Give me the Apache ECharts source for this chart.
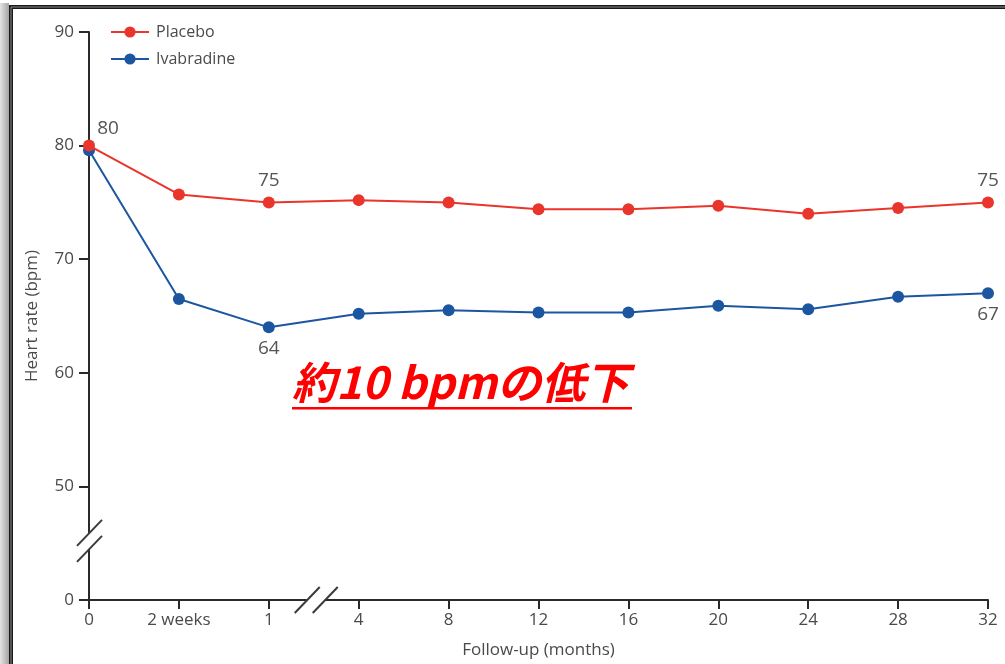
<!DOCTYPE html>
<html>
<head>
<meta charset="utf-8">
<script src="https://cdn.jsdelivr.net/npm/echarts@6/dist/echarts.min.js"></script>
<style>
  html, body { margin: 0; padding: 0; background: #fff; }
  #chart { width: 1005px; height: 664px; }
</style>
</head>
<body>
<div id="chart"></div>
<script>
// Follow-up time points
const categories = ['0', '2 weeks', '1', '4', '8', '12', '16', '20', '24', '28', '32'];
// Mean heart rate (bpm) per time point
const placebo = [80, 75.7, 75, 75.2, 75.0, 74.4, 74.4, 74.7, 74.0, 74.5, 75];
const ivabradine = [79.6, 66.5, 64, 65.2, 65.5, 65.3, 65.3, 65.9, 65.6, 66.7, 67];
// Y ticks: the lowest tick sits below the axis break and stands for 0
const yTickValues = [40, 50, 60, 70, 80, 90];
const yTickLabels = ['0', '50', '60', '70', '80', '90'];
// Points that carry a value label
const placeboLabelled = [0, 2, 10];
const ivabradineLabelled = [2, 10];
const annotation = '約10 bpmの低下';

const RED = '#e9352c';
const BLUE = '#1d56a0';
const TEXT = '#4a4a4a';
const FONT = '"Open Sans", "Liberation Sans", sans-serif';

function buildData(values, labelled, pos) {
  return values.map((v, i) => {
    if (labelled.indexOf(i) < 0) return v;
    const item = { value: v, label: { show: true, position: pos } };
    if (i === 0) { item.label.offset = [19, 4]; }
    return item;
  });
}

const chart = echarts.init(document.getElementById('chart'), null, { renderer: 'canvas' });

const labelStyle = {
  color: '#555',
  fontFamily: FONT,
  fontSize: 19,
  distance: 6,
  formatter: p => String(p.value)
};

chart.setOption({
  animation: false,
  backgroundColor: '#fff',
  grid: { left: 89, right: 17, top: 32, bottom: 63 },
  legend: {
    orient: 'vertical',
    left: 110,
    top: 24,
    padding: 0,
    itemWidth: 38,
    itemHeight: 14,
    itemGap: 11,
    data: ['Placebo', 'Ivabradine'],
    textStyle: { color: TEXT, fontFamily: FONT, fontSize: 16, padding: [0, 0, 0, 2] }
  },
  xAxis: {
    type: 'category',
    data: categories,
    boundaryGap: false,
    name: 'Follow-up (months)',
    nameLocation: 'middle',
    nameGap: 42,
    nameTextStyle: { color: TEXT, fontFamily: FONT, fontSize: 17 },
    axisLine: { lineStyle: { color: '#2a2a2a', width: 2 } },
    axisTick: { length: 9, lineStyle: { color: '#2a2a2a', width: 2 } },
    axisLabel: { color: TEXT, fontFamily: FONT, fontSize: 17, margin: 12 },
    splitLine: { show: false }
  },
  yAxis: {
    type: 'value',
    min: yTickValues[0],
    max: yTickValues[yTickValues.length - 1],
    interval: 10,
    name: 'Heart rate (bpm)',
    nameLocation: 'middle',
    nameGap: 48,
    nameTextStyle: { color: TEXT, fontFamily: FONT, fontSize: 17 },
    axisLine: { show: true, lineStyle: { color: '#2a2a2a', width: 2 } },
    axisTick: { show: true, length: 10, lineStyle: { color: '#2a2a2a', width: 2 } },
    axisLabel: {
      color: TEXT, fontFamily: FONT, fontSize: 17, margin: 15,
      formatter: v => yTickLabels[yTickValues.indexOf(v)]
    },
    splitLine: { show: false }
  },
  series: [
    {
      name: 'Placebo',
      type: 'line',
      z: 3,
      data: buildData(placebo, placeboLabelled, 'top'),
      symbol: 'circle',
      symbolSize: 12,
      itemStyle: { color: RED },
      lineStyle: { color: RED, width: 2 },
      label: Object.assign({ show: false }, labelStyle)
    },
    {
      name: 'Ivabradine',
      type: 'line',
      z: 2,
      data: buildData(ivabradine, ivabradineLabelled, 'bottom'),
      symbol: 'circle',
      symbolSize: 12,
      itemStyle: { color: BLUE },
      lineStyle: { color: BLUE, width: 2 },
      label: Object.assign({ show: false }, labelStyle)
    }
  ]
});

// Axis break marks and decorations, placed from the axis scales
const axisX = chart.convertToPixel({ xAxisIndex: 0 }, 0);
const axisY = chart.convertToPixel({ yAxisIndex: 0 }, yTickValues[0]);
const yBreak = chart.convertToPixel({ yAxisIndex: 0 }, 45.2);
const xBreak = (chart.convertToPixel({ xAxisIndex: 0 }, 2) + chart.convertToPixel({ xAxisIndex: 0 }, 3)) / 2 + 2;
const breakStyle = { stroke: '#3a3a3a', lineWidth: 2 };

function slash(cx, cy) {
  return { type: 'line', z: 101, shape: { x1: cx - 12, y1: cy + 13, x2: cx + 13, y2: cy - 13 }, style: breakStyle };
}

chart.setOption({
  graphic: [
    // y-axis break
    { type: 'rect', z: 100, shape: { x: axisX - 4, y: yBreak - 8, width: 8, height: 16 }, style: { fill: '#fff' } },
    slash(axisX, yBreak - 8),
    slash(axisX, yBreak + 8),
    // x-axis break
    { type: 'rect', z: 100, shape: { x: xBreak - 9, y: axisY - 4, width: 18, height: 8 }, style: { fill: '#fff' } },
    slash(xBreak - 9, axisY),
    slash(xBreak + 9, axisY),
    // annotation
    {
      type: 'text', z: 110, left: 292, top: 360,
      style: {
        text: annotation,
        fill: '#ff0000',
        font: 'italic bold 44px "Noto Sans CJK JP", sans-serif'
      }
    },
    { type: 'rect', z: 110, shape: { x: 292, y: 407, width: 340, height: 2.5 }, style: { fill: '#ff0000' } },
    // page frame
    {
      type: 'rect', z: 120, shape: { x: 0, y: 3, width: 9, height: 661 },
      style: { fill: new echarts.graphic.LinearGradient(0, 0, 1, 0, [
        { offset: 0, color: '#e4e4e4' }, { offset: 1, color: '#a4a4a4' }
      ]) }
    },
    { type: 'rect', z: 121, shape: { x: 9, y: 5, width: 996, height: 4 }, style: { fill: '#1a1a1a' } },
    { type: 'rect', z: 121, shape: { x: 9, y: 5, width: 4, height: 659 }, style: { fill: '#1a1a1a' } },
    { type: 'rect', z: 122, shape: { x: 11, y: 6.5, width: 994, height: 1 }, style: { fill: '#8a8a8a' } },
    { type: 'rect', z: 122, shape: { x: 10.5, y: 7, width: 1, height: 657 }, style: { fill: '#8a8a8a' } }
  ]
});
</script>
</body>
</html>
